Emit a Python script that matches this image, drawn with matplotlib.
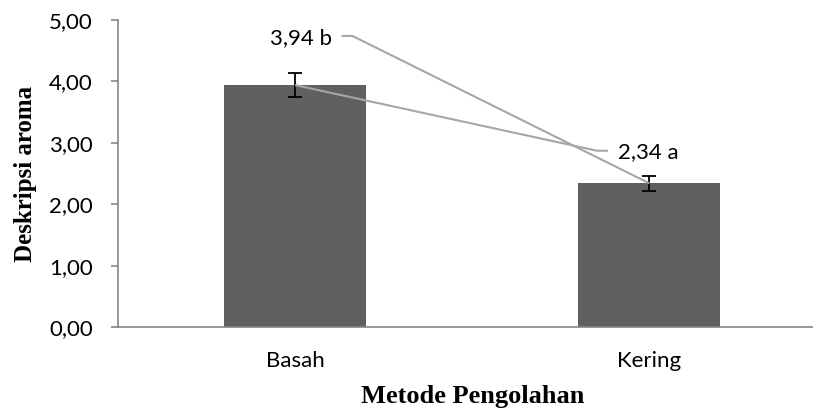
import matplotlib
matplotlib.use("Agg")
import matplotlib.pyplot as plt
from matplotlib.ticker import FuncFormatter

categories = ["Basah", "Kering"]
values = [3.94, 2.34]
errors = [0.20, 0.12]
letters = ["b", "a"]

bar_color = "#606060"
axis_color = "#868686"
leader_color = "#A6A6A6"
sans = ["Lato", "DejaVu Sans"]
serif = ["Liberation Serif", "DejaVu Serif"]
fs = 16

fig = plt.figure(figsize=(8.13, 4.12), dpi=100)
ax = fig.add_axes([0.1451, 0.2063, 0.8549, 0.7452])

x = list(range(len(categories)))
ax.bar(x, values, width=0.4, color=bar_color, zorder=2)
ax.errorbar(x, values, yerr=errors, fmt="none", ecolor="black",
            elinewidth=1.3, capsize=5, capthick=1.3, zorder=3)

ax.set_xlim(-0.5, 1.462)
ax.set_ylim(0, 5)
ax.set_yticks([0, 1, 2, 3, 4, 5])
ax.yaxis.set_major_formatter(FuncFormatter(lambda v, p: f"{v:.2f}".replace(".", ",")))
ax.set_xticks(x)
ax.set_xticklabels(categories)

for s in ["top", "right"]:
    ax.spines[s].set_visible(False)
for s in ["left", "bottom"]:
    ax.spines[s].set_color(axis_color)
    ax.spines[s].set_linewidth(1.2)

ax.tick_params(axis="y", length=5, width=1.2, color=axis_color, pad=13,
               labelsize=fs, labelcolor="black")
ax.tick_params(axis="x", length=0, pad=17, labelsize=fs, labelcolor="black")
for lab in ax.get_yticklabels() + ax.get_xticklabels():
    lab.set_family(sans)

ax.set_ylabel("Deskripsi aroma", fontsize=18, fontweight="bold", family=serif)
ax.yaxis.set_label_coords(-0.117, 0.5)
ax.set_xlabel("Metode Pengolahan", fontsize=19, fontweight="bold", family=serif)
ax.xaxis.set_label_coords(0.51, -0.19)

lbl0 = f"{values[0]:.2f}".replace(".", ",") + " " + letters[0]
lbl1 = f"{values[1]:.2f}".replace(".", ",") + " " + letters[1]

ax.text(0.103, 4.71, lbl0, ha="right", va="center", fontsize=fs, family=sans, zorder=4)
ax.plot([0.131, 0.162, x[1]], [4.74, 4.74, values[1]], color=leader_color, lw=1.5, zorder=4,
        solid_capstyle="butt")

ax.text(0.911, 2.85, lbl1, ha="left", va="center", fontsize=fs, family=sans, zorder=4)
ax.plot([0.883, 0.852, x[0]], [2.871, 2.871, values[0]], color=leader_color, lw=1.5, zorder=4,
        solid_capstyle="butt")

fig.savefig("out.png", dpi=100)
